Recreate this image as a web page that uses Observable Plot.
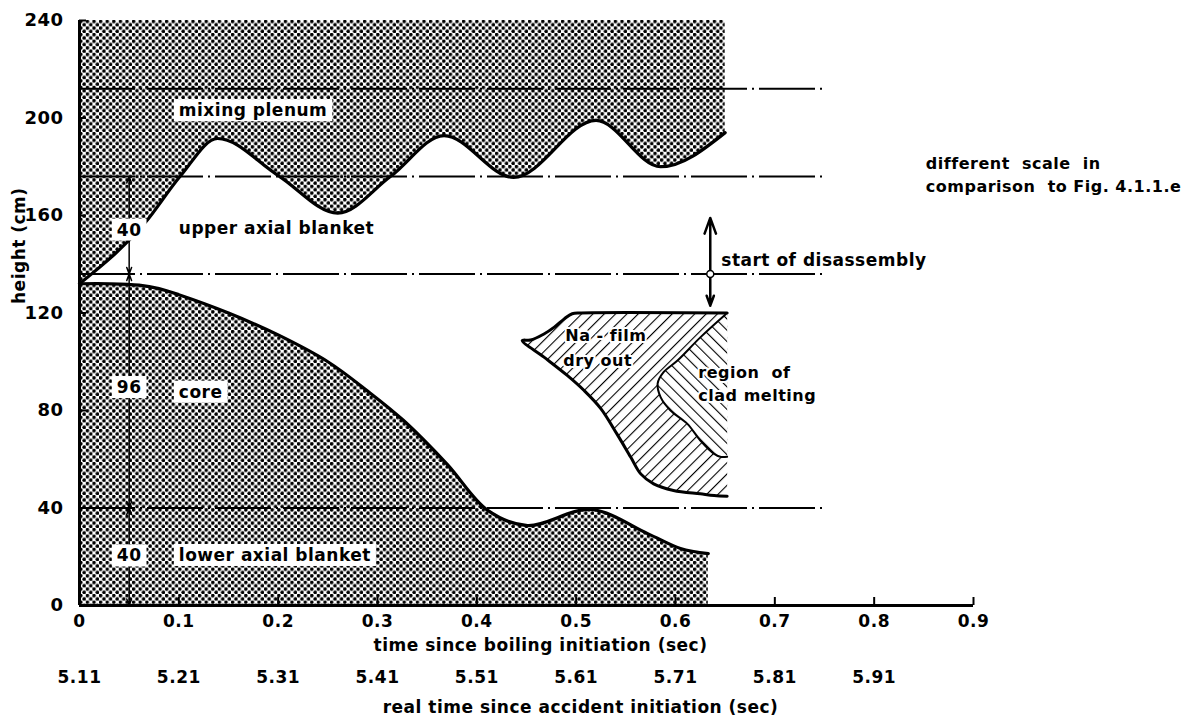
<!DOCTYPE html>
<html>
<head>
<meta charset="utf-8">
<script src="https://cdn.jsdelivr.net/npm/d3@7"></script>
<script src="https://cdn.jsdelivr.net/npm/@observablehq/plot@0.6"></script>
<style>
  html, body { margin: 0; padding: 0; background: #fff; }
  #chart svg { display: block; }
  #chart text { letter-spacing: 0.5px; }
</style>
</head>
<body>
<div id="chart"></div>
<script>
// ---- axes -------------------------------------------------------------
const xDomain = [0, 0.9];
const yDomain = [0, 240];
const boilTicks = [0, 0.1, 0.2, 0.3, 0.4, 0.5, 0.6, 0.7, 0.8, 0.9];
const realTicks = [0, 0.1, 0.2, 0.3, 0.4, 0.5, 0.6, 0.7, 0.8];
const realTimeLabels = ["5.11", "5.21", "5.31", "5.41", "5.51", "5.61", "5.71", "5.81", "5.91"];
const heightTicks = [0, 40, 80, 120, 160, 200, 240];

// ---- interface mixing plenum / upper axial blanket (time s, height cm) --
const plenumT = [0, 0.066, 0.102, 0.139, 0.2, 0.26, 0.313, 0.367, 0.437, 0.52, 0.585, 0.65];
const plenumH = [132, 157, 176.4, 191.6, 176.4, 161, 176, 192.8, 175.6, 199, 180, 194];

// ---- top of the core / lower blanket region ---------------------------
const coreT = [0, 0.03, 0.06, 0.08, 0.1, 0.15, 0.2, 0.25, 0.29, 0.326, 0.37, 0.411, 0.451, 0.515, 0.572, 0.605, 0.633];
const coreH = [132, 132, 131.4, 130, 127.5, 120, 111, 100, 88, 76, 58, 39, 32.8, 39.4, 29.5, 23.4, 21.3];

// ---- Na-film dry out zone outline ------------------------------------
const dryoutT = [0.652, 0.639, 0.625, 0.598, 0.578, 0.565, 0.555, 0.541, 0.525, 0.508, 0.491, 0.4676, 0.4457,
                 0.454, 0.4676, 0.478, 0.488, 0.496, 0.505, 0.652];
const dryoutH = [44.8, 45.1, 45.8, 47.2, 49.9, 54, 60.8, 70.4, 80.7, 88.2, 94.4, 101.9, 108.7,
                 108.9, 111.4, 114.2, 117.6, 119.7, 120, 120];

// ---- clad melting zone outline ---------------------------------------
const meltT = [0.652, 0.625, 0.602, 0.588, 0.582, 0.585, 0.595, 0.612, 0.625, 0.639, 0.645, 0.652];
const meltH = [120, 110, 100.5, 95.7, 91, 85.5, 80, 74.5, 67.7, 62.2, 61, 61];

// ---- dash-dot reference levels (cm) ----------------------------------
const levels = [212, 176, 136, 40];
const levelEnd = 0.75;

// ---- dimension chain ---------------------------------------------------
const dimT = 0.05;
const dimLow = [136, 40, 0];
const dimHigh = [176, 136, 40];
const dimLabelH = [154, 89.4, 20.3];
const dimText = ["40", "96", "40"];

// ---- start of disassembly marker --------------------------------------
const disT = 0.635;
const disH = 136;
const disEnds = [159, 123];

// ---- zone labels -------------------------------------------------------
const zoneText = ["mixing plenum", "upper axial blanket", "core", "lower axial blanket"];
const zoneT = [0.1, 0.1, 0.1, 0.1];
const zoneH = [203, 154.7, 87.5, 20.5];
const nodeText = ["Na - film", "dry out", "region  of", "clad melting"];
const nodeT = [0.489, 0.487, 0.623, 0.623];
const nodeH = [110.5, 100.5, 95.6, 86];
const noteText = ["different  scale  in", "comparison  to Fig. 4.1.1.e"];
const noteT = 0.852;
const noteH = [181.3, 171.9];

const FONT = '"DejaVu Sans", sans-serif';

// tables built from the arrays above
const plenum = plenumT.map((t, i) => ({t, h: plenumH[i]}));
const core = coreT.map((t, i) => ({t, h: coreH[i]}));
const dryout = dryoutT.map((t, i) => ({t, h: dryoutH[i]}));
const melt = meltT.map((t, i) => ({t, h: meltH[i]}));
const dimArrows = dimText.flatMap((s, i) => [
  {from: dimLabelH[i], to: dimHigh[i]},
  {from: dimLabelH[i], to: dimLow[i]}
]);
const dimLabels = dimText.map((s, i) => ({s, h: dimLabelH[i]}));
const zones = zoneText.map((s, i) => ({s, t: zoneT[i], h: zoneH[i]}));
const nodes = nodeText.map((s, i) => ({s, t: nodeT[i], h: nodeH[i]}));
const notes = noteText.map((s, i) => ({s, h: noteH[i]}));
const realLabels = realTicks.map((t, i) => ({t, s: realTimeLabels[i]}));

// fill patterns: halftone dots and two line hatchings
function patterns() {
  const defs = document.createElementNS("http://www.w3.org/2000/svg", "defs");
  defs.innerHTML = `
    <pattern id="dots" patternUnits="userSpaceOnUse" width="6.6" height="6.6">
      <rect width="6.6" height="6.6" fill="white"/>
      <circle cx="1.65" cy="1.65" r="1.8" fill="black"/>
      <circle cx="4.95" cy="4.95" r="1.8" fill="black"/>
    </pattern>
    <pattern id="hatchA" patternUnits="userSpaceOnUse" width="8" height="8" patternTransform="rotate(45)">
      <rect width="8" height="8" fill="white"/>
      <line x1="0" y1="0" x2="0" y2="8" stroke="black" stroke-width="2.2"/>
    </pattern>
    <pattern id="hatchB" patternUnits="userSpaceOnUse" width="8" height="8" patternTransform="rotate(-45)">
      <rect width="8" height="8" fill="white"/>
      <line x1="0" y1="0" x2="0" y2="8" stroke="black" stroke-width="2.2"/>
    </pattern>`;
  return defs;
}

const plot = Plot.plot({
  width: 1189,
  height: 724,
  marginLeft: 79,
  marginRight: 216,
  marginTop: 20,
  marginBottom: 119,
  x: {domain: xDomain, axis: null, label: null},
  y: {domain: yDomain, axis: null, label: null},
  style: {fontFamily: FONT, fontSize: "17px", color: "black", background: "white"},
  marks: [
    patterns,
    // shaded regions
    Plot.areaY(plenum, {x: "t", y1: "h", y2: yDomain[1], curve: "monotone-x", fill: "url(#dots)"}),
    Plot.areaY(core, {x: "t", y: "h", curve: "catmull-rom", fill: "url(#dots)"}),
    // dash-dot level lines
    Plot.ruleY(levels, {x1: xDomain[0], x2: levelEnd, stroke: "black", strokeWidth: 2, strokeDasharray: "56,5,2,5"}),
    // region boundaries
    Plot.line(plenum, {x: "t", y: "h", curve: "monotone-x", stroke: "black", strokeWidth: 3.2}),
    Plot.line(core, {x: "t", y: "h", curve: "catmull-rom", stroke: "black", strokeWidth: 3.2}),
    // hatched zones
    Plot.line(dryout, {x: "t", y: "h", curve: "catmull-rom", fill: "url(#hatchA)", stroke: "black", strokeWidth: 3}),
    Plot.line(melt, {x: "t", y: "h", curve: "catmull-rom", fill: "url(#hatchB)", stroke: "black", strokeWidth: 2}),
    // dimension chain
    Plot.arrow(dimArrows, {x1: dimT, x2: dimT, y1: "from", y2: "to", stroke: "black", strokeWidth: 1.5, headLength: 7, headAngle: 40}),
    // start of disassembly marker
    Plot.arrow(disEnds, {x1: disT, x2: disT, y1: disH, y2: d => d, stroke: "black", strokeWidth: 2.5, headLength: 10, headAngle: 40}),
    Plot.dot([disH], {x: disT, y: d => d, r: 3.5, stroke: "black", fill: "white", strokeWidth: 1.5}),
    // axes
    Plot.ruleX([xDomain[0]], {y1: yDomain[0], y2: yDomain[1], stroke: "black", strokeWidth: 3}),
    Plot.ruleY([yDomain[0]], {x1: xDomain[0], x2: xDomain[1], stroke: "black", strokeWidth: 3}),
    Plot.axisY(heightTicks, {tickSize: -7, tickPadding: 23, strokeWidth: 2, fontWeight: "bold", fontSize: 18, tickFormat: d => String(d), label: null}),
    Plot.axisX(boilTicks, {tickSize: -8, tickPadding: 17, strokeWidth: 2, fontWeight: "bold", fontSize: 17, tickFormat: d => String(d), label: null}),
    Plot.text(realLabels, {x: "t", text: "s", frameAnchor: "bottom", dy: 77, fontWeight: "bold", fontSize: 17}),
    Plot.text(["time since boiling initiation (sec)"], {text: d => d, frameAnchor: "bottom", dx: 14, dy: 45, fontWeight: "bold", fontSize: 17}),
    Plot.text(["real time since accident initiation (sec)"], {text: d => d, frameAnchor: "bottom", dx: 54, dy: 107, fontWeight: "bold", fontSize: 17}),
    Plot.text(["height (cm)"], {text: d => d, frameAnchor: "left", rotate: -90, dx: -60, dy: -9, fontWeight: "bold", fontSize: 17}),
    // labels
    Plot.text(zones, {x: "t", y: "h", text: "s", textAnchor: "start", fontWeight: "bold", fontSize: 17}),
    Plot.text(dimLabels, {x: dimT, y: "h", text: "s", fontWeight: "bold", fontSize: 17}),
    Plot.text(nodes, {x: "t", y: "h", text: "s", textAnchor: "start", fontWeight: "bold", fontSize: 16, fill: "black", stroke: "white", strokeWidth: 4}),
    Plot.text(["start of disassembly"], {x: disT, y: disH, text: d => d, textAnchor: "start", dx: 11, dy: -13, fontWeight: "bold", fontSize: 17}),
    Plot.text(notes, {x: noteT, y: "h", text: "s", textAnchor: "start", fontWeight: "bold", fontSize: 16})
  ]
});

document.getElementById("chart").append(plot);

// white boxes behind labels that sit on the shaded regions
const boxed = new Set(["mixing plenum", "core", "lower axial blanket", "96", "40"]);
plot.querySelectorAll('g[aria-label="text"] text').forEach(t => {
  if (!boxed.has(t.textContent)) return;
  const b = t.getBBox();
  const r = document.createElementNS("http://www.w3.org/2000/svg", "rect");
  r.setAttribute("x", b.x - 5);
  r.setAttribute("y", b.y - 1);
  r.setAttribute("width", b.width + 10);
  r.setAttribute("height", b.height + 2);
  r.setAttribute("fill", "white");
  r.setAttribute("stroke", "none");
  const tr = t.getAttribute("transform");
  if (tr) r.setAttribute("transform", tr);
  t.parentNode.insertBefore(r, t);
});
</script>
</body>
</html>
